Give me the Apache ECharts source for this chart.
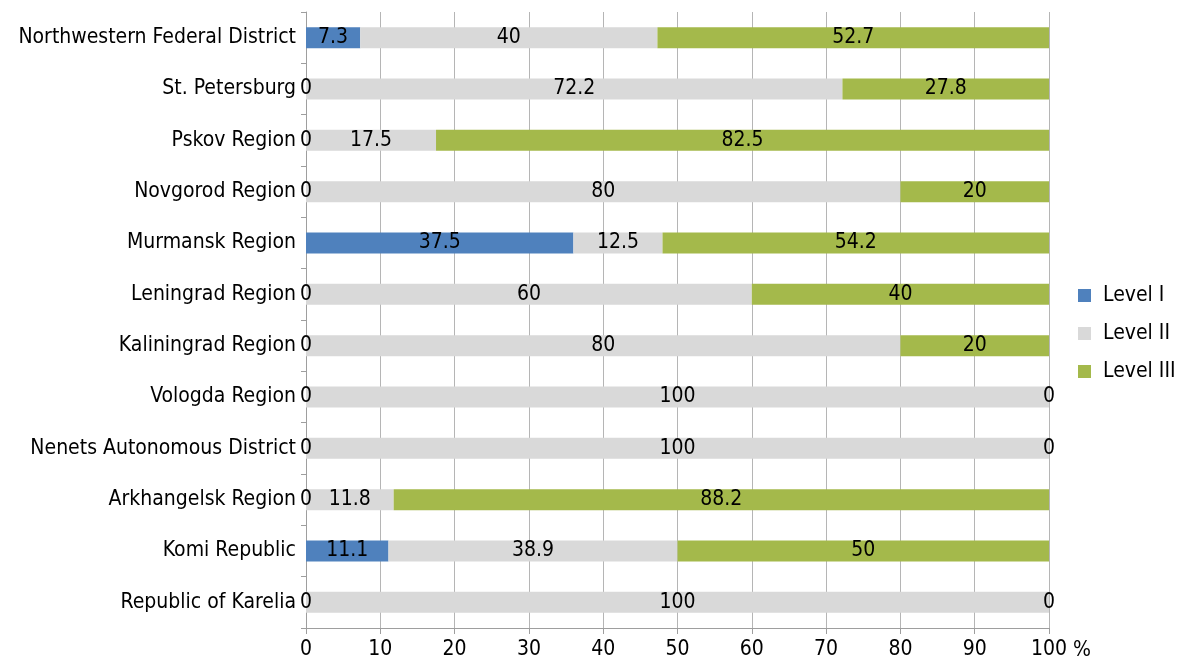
<!DOCTYPE html>
<html>
<head>
<meta charset="utf-8">
<script src="https://cdn.jsdelivr.net/npm/echarts@6/dist/echarts.min.js"></script>
<style>
  html, body { margin: 0; padding: 0; background: #fff; }
  #chart { width: 1177px; height: 663px; }
</style>
</head>
<body>
<div id="chart"></div>
<script>
// categories, bottom to top
const regions = [
  'Republic of Karelia',
  'Komi Republic',
  'Arkhangelsk Region',
  'Nenets Autonomous District',
  'Vologda Region',
  'Kaliningrad Region',
  'Leningrad Region',
  'Murmansk Region',
  'Novgorod Region',
  'Pskov Region',
  'St. Petersburg',
  'Northwestern Federal District'
]
const levelI = [0, 11.1, 0, 0, 0, 0, 0, 37.5, 0, 0, 0, 7.3]
const levelII = [100, 38.9, 11.8, 100, 100, 80, 60, 12.5, 80, 17.5, 72.2, 40]
const levelIII = [0, 50, 88.2, 0, 0, 20, 40, 54.2, 20, 82.5, 27.8, 52.7]
const seriesNames = ['Level I', 'Level II', 'Level III']
const colors = ['#4f81bd', '#d9d9d9', '#a4b94b']

const font = "'DejaVu Sans Condensed', 'Liberation Sans Narrow', sans-serif"
const fs = 21

// bars are drawn as share of row total (100% stacked), labels show raw values
const totals = regions.map((r, i) => levelI[i] + levelII[i] + levelIII[i])
const toShare = (arr) => arr.map((v, i) => ({ value: (v / totals[i]) * 100, raw: v }))

const makeSeries = (name, arr, color) => ({
  name: name,
  type: 'bar',
  stack: 'total',
  barWidth: 21,
  data: toShare(arr),
  itemStyle: { color: color },
  label: {
    show: true,
    position: 'inside',
    color: '#000',
    fontFamily: font,
    fontSize: fs,
    formatter: (p) => String(p.data.raw)
  }
})

const chart = echarts.init(document.getElementById('chart'))
chart.setOption({
  animation: false,
  textStyle: { fontFamily: font },
  grid: {
    left: 306,
    right: 128,
    top: 12,
    bottom: 35,
    containLabel: false
  },
  legend: {
    orient: 'vertical',
    left: 1078,
    top: 285,
    padding: 0,
    itemWidth: 13,
    itemHeight: 13,
    itemGap: 17,
    icon: 'rect',
    data: seriesNames,
    textStyle: { fontSize: fs, color: '#000', fontFamily: font, padding: [0, 0, 0, 7] }
  },
  xAxis: {
    type: 'value',
    min: 0,
    max: 100,
    interval: 10,
    name: '%',
    nameLocation: 'end',
    nameGap: 22,
    nameTextStyle: {
      fontSize: fs,
      color: '#000',
      fontFamily: font,
      verticalAlign: 'top',
      padding: [12, 0, 0, 0]
    },
    axisLine: { show: true, lineStyle: { color: '#9e9e9e' } },
    axisTick: { show: true, length: 6, lineStyle: { color: '#9e9e9e' } },
    axisLabel: { fontSize: fs, color: '#000', margin: 11, fontFamily: font },
    splitLine: { show: true, lineStyle: { color: '#b5b5b5' } }
  },
  yAxis: {
    type: 'category',
    data: regions,
    axisLine: { show: true, lineStyle: { color: '#9e9e9e' } },
    axisTick: { show: true, length: 5, lineStyle: { color: '#9e9e9e' } },
    axisLabel: { fontSize: fs, color: '#000', margin: 10, fontFamily: font }
  },
  series: [
    makeSeries(seriesNames[0], levelI, colors[0]),
    makeSeries(seriesNames[1], levelII, colors[1]),
    makeSeries(seriesNames[2], levelIII, colors[2])
  ]
})
</script>
</body>
</html>
